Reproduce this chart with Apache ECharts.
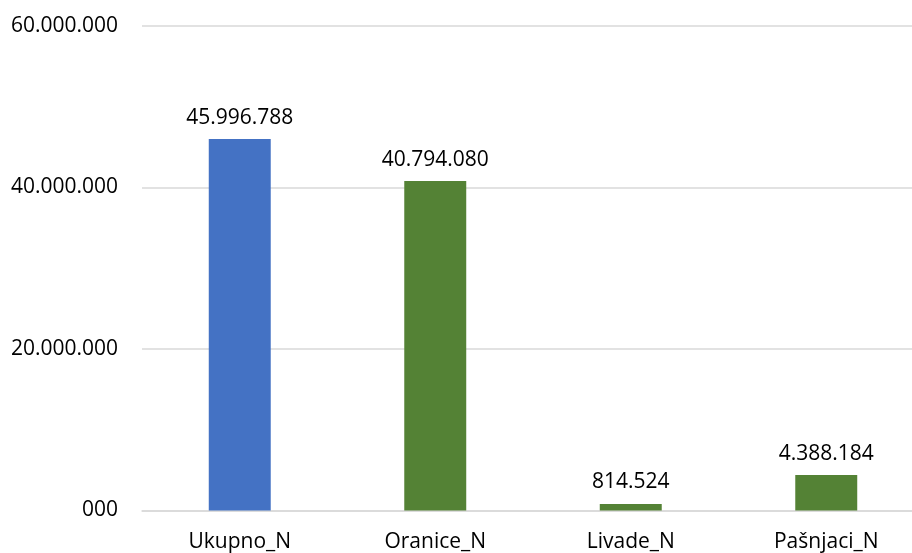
<!DOCTYPE html>
<html><head><meta charset="utf-8">
<script src="https://cdn.jsdelivr.net/npm/echarts@6/dist/echarts.min.js"></script>
<style>html,body{margin:0;padding:0;background:#fff;overflow:hidden;width:912px;height:553px}#c{width:924px;height:553px}</style>
</head><body><div id="c"></div>
<script>
const categories = ['Ukupno_N', 'Oranice_N', 'Livade_N', 'Pašnjaci_N'];
const values = [45996788, 40794080, 814524, 4388184];
const barColors = ['#4472C4', '#548235', '#548235', '#548235'];
const yTicks = [0, 20000000, 40000000, 60000000];

function fmt(v) {
  if (v === 0) return '000';
  return String(Math.round(v)).replace(/\B(?=(\d{3})+(?!\d))/g, '.');
}
const FONT = 'Open Sans';
const chart = echarts.init(document.getElementById('c'));
chart.setOption({
  animation: false,
  grid: { left: 142, right: 0, top: 26, bottom: 42.5, containLabel: false },
  xAxis: {
    type: 'category', data: categories,
    axisLine: { lineStyle: { color: '#d9d9d9', width: 1.5 } },
    axisTick: { show: false },
    axisLabel: { color: '#000', fontFamily: FONT, fontSize: 21, margin: 21 }
  },
  yAxis: {
    type: 'value', min: yTicks[0], max: yTicks[yTicks.length - 1], interval: 20000000,
    axisLine: { show: false }, axisTick: { show: false },
    splitLine: { lineStyle: { color: '#d9d9d9', width: 1.5 } },
    axisLabel: { color: '#000', fontFamily: FONT, fontSize: 21, margin: 24, formatter: fmt }
  },
  series: [{
    type: 'bar', barWidth: '31.7%',
    data: values.map((v, i) => ({ value: v, itemStyle: { color: barColors[i] } })),
    label: { show: true, position: 'top', distance: 11, color: '#000', fontFamily: FONT, fontSize: 21,
      formatter: p => fmt(p.value) }
  }]
});
</script></body></html>
